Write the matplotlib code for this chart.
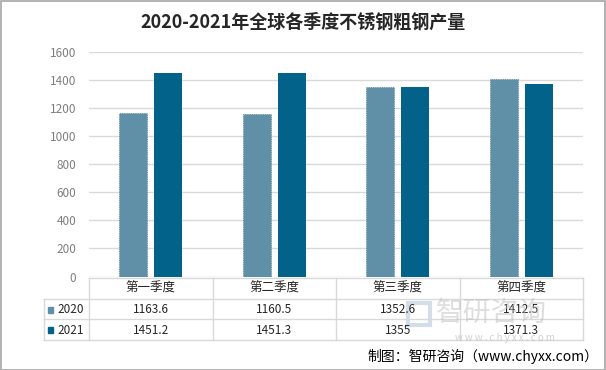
import matplotlib.pyplot as plt
from matplotlib.patches import Rectangle
from matplotlib.lines import Line2D

plt.rcParams['font.family'] = ['Noto Sans CJK SC', 'DejaVu Sans']

quarters = ['第一季度', '第二季度', '第三季度', '第四季度']
years = ['2020', '2021']
v2020 = [1163.6, 1160.5, 1352.6, 1412.5]
v2021 = [1451.2, 1451.3, 1355, 1371.3]
labels2020 = ['1163.6', '1160.5', '1352.6', '1412.5']
labels2021 = ['1451.2', '1451.3', '1355', '1371.3']
yticks = [0, 200, 400, 600, 800, 1000, 1200, 1400, 1600]

c2020 = '#5F90A8'
c2021 = '#03628A'
gridc = '#D9D9D9'

W, H = 606, 370
fig = plt.figure(figsize=(W / 100, H / 100), dpi=100)

# plot area in pixel coords
x0, x1 = 89, 583
ytop, ybase = 52.3, 276.5
ax = fig.add_axes([x0 / W, (H - ybase) / H, (x1 - x0) / W, (ybase - ytop) / H])

xs = list(range(len(quarters)))
bw = 0.227
off = 0.142
ax.bar([x - off for x in xs], v2020, width=bw, color=c2020, edgecolor='#557F96',
       linestyle=':', linewidth=0.6, zorder=3)
ax.bar([x + off for x in xs], v2021, width=bw, color=c2021, zorder=3)

ax.set_xlim(-0.5, 3.5)
ax.set_ylim(0, 1600)
ax.set_yticks(yticks)
ax.set_yticklabels([str(t) for t in yticks], color='#7F7F7F', fontsize=8.5)
ax.tick_params(axis='y', length=0, pad=9)
ax.set_xticks([])
ax.grid(axis='y', color=gridc, linewidth=1, zorder=0)
for s in ax.spines.values():
    s.set_visible(False)

# data table under the axis
def fy(py):
    return (H - py) / H

def fx(px):
    return px / W

rows_y = [278, 299, 319, 340]
lw = 1
for py in rows_y[1:]:
    fig.add_artist(Line2D([fx(44), fx(x1)], [fy(py), fy(py)], color=gridc, lw=lw))
fig.add_artist(Line2D([fx(x0), fx(x1)], [fy(278), fy(278)], color=gridc, lw=lw))
fig.add_artist(Line2D([fx(44), fx(44)], [fy(299), fy(340)], color=gridc, lw=lw))
colw = (x1 - x0) / len(quarters)
for i in range(len(quarters) + 1):
    px = x0 + i * colw
    fig.add_artist(Line2D([fx(px), fx(px)], [fy(278), fy(340)], color=gridc, lw=lw))

for i, q in enumerate(quarters):
    cx = fx(x0 + (i + 0.5) * colw)
    fig.text(cx, fy(288.5), q, ha='center', va='center', fontsize=9, color='#262626')
    fig.text(cx, fy(309.5), labels2020[i], ha='center', va='center', fontsize=8.5, color='#262626')
    fig.text(cx, fy(330), labels2021[i], ha='center', va='center', fontsize=8.5, color='#262626')

for yr, col, py in [(years[0], c2020, 309.5), (years[1], c2021, 330)]:
    fig.add_artist(Rectangle((fx(48), fy(py + 3)), 5 / W, 6 / H, color=col))
    fig.text(fx(57), fy(py), yr, ha='left', va='center', fontsize=8.5, color='#262626')

# title
fig.text(0.5, fy(22), '2020-2021年全球各季度不锈钢粗钢产量', ha='center', va='center',
         fontsize=13, fontweight='bold', color='#262626')

# watermark
fig.add_artist(Rectangle((fx(408), fy(325)), 22 / W, 22 / H, fill=False,
                         edgecolor='#C9D6E3', lw=3, alpha=0.8))
fig.text(fx(436), fy(313), '智研咨询', ha='left', va='center', fontsize=20,
         color='#BFBFBF', alpha=0.5)
fig.text(fx(505), fy(338), 'w w w . c h y x x . c o m', ha='center', va='center',
         fontsize=7, color='#BFBFBF', alpha=0.7)

# source
fig.text(fx(598), fy(356), '制图：智研咨询（www.chyxx.com）', ha='right', va='center',
         fontsize=10, color='#000000')

# outer border
fig.add_artist(Rectangle((0.5 / W, 0.5 / H), 1 - 1.5 / W, 1 - 1.5 / H, fill=False,
                         edgecolor='#A6A6A6', lw=1.2))

fig.savefig('out.png', dpi=100)
